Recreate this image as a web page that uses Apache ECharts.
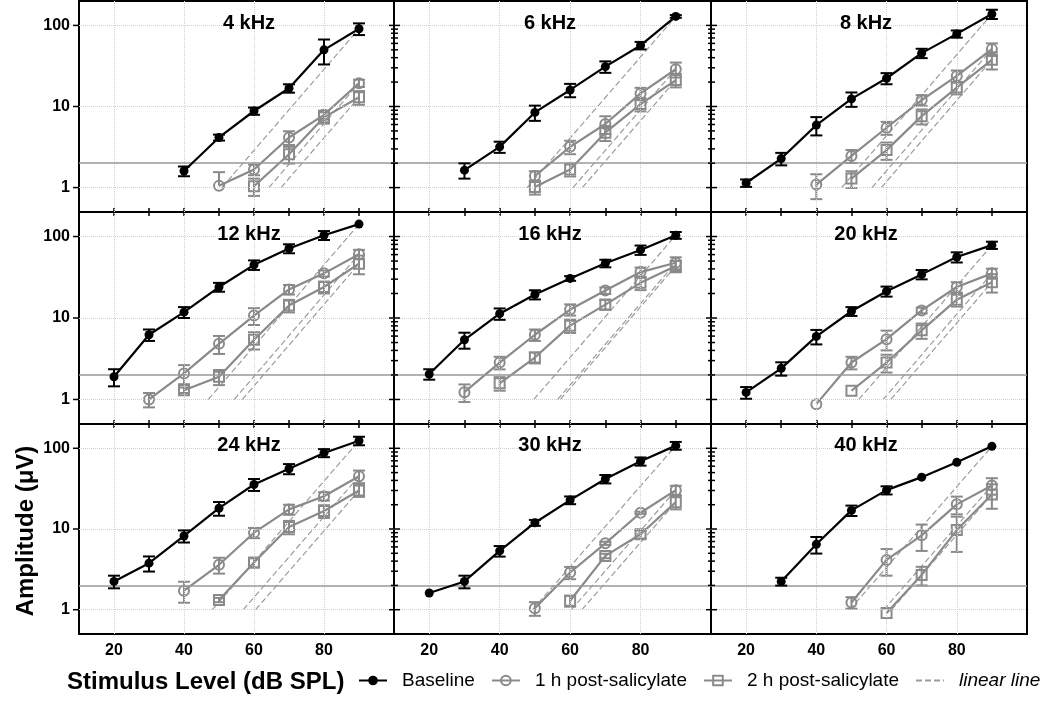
<!DOCTYPE html>
<html><head><meta charset="utf-8">
<script src="https://cdn.jsdelivr.net/npm/echarts@6/dist/echarts.min.js"></script>
<style>html,body{margin:0;padding:0;background:#fff}#c{width:1050px;height:705px}</style>
</head><body><div id="c"></div>
<script>
// ---------------- data ----------------
const levels = [20, 30, 40, 50, 60, 70, 80, 90];
const panelTitles = ['4 kHz', '6 kHz', '8 kHz', '12 kHz', '16 kHz', '20 kHz', '24 kHz', '30 kHz', '40 kHz'];
const yTickLabels = [1, 10, 100];
const xTickLabels = [20, 40, 60, 80];
const minorTickValues = [2, 3, 4, 5, 6, 7, 8, 9, 20, 30, 40, 50, 60, 70, 80, 90];
const thresholdUV = 2;
const N = null;

// Baseline mean amplitude (µV) per panel, at levels 20..90 dB SPL
const baselineMean = [
  [N, N, 1.6, 4.15, 8.8, 16.8, 50, 91],
  [N, 1.64, 3.18, 8.45, 16, 31, 56.6, 129],
  [1.14, 2.28, 5.9, 12.4, 22.3, 45.5, 78.6, 138],
  [1.9, 6.23, 11.8, 24, 44.9, 71.3, 103.7, 142],
  [2.05, 5.4, 11.3, 19.4, 30.6, 46.9, 68.5, 103.7],
  [1.22, 2.41, 5.94, 12.1, 21.3, 34.3, 56, 78.4],
  [2.24, 3.77, 8.2, 18.1, 35.6, 55.7, 87.6, 124],
  [1.61, 2.24, 5.35, 11.96, 22.8, 41.7, 69, 107.9],
  [N, 2.24, 6.46, 17, 30.3, 43.9, 67, 105.8]
];
const baselineSem = [
  [N, N, 0.22, 0.35, 0.9, 2, 17, 15],
  [N, 0.35, 0.5, 1.8, 3, 5, 6, 5],
  [0.12, 0.4, 1.5, 2.5, 3.5, 6, 8, 18],
  [0.45, 1, 1.8, 3, 6, 9, 13, 0],
  [0.3, 1.2, 1.8, 2.5, 2, 5, 9, 10],
  [0.2, 0.45, 1.2, 1.5, 3, 4.5, 8, 8],
  [0.4, 0.8, 1.4, 3.5, 6, 8, 10, 15],
  [0, 0.4, 0.8, 1, 2.5, 5, 8, 12],
  [N, 0.25, 1.5, 2.5, 3.5, 0, 0, 0]
];
const oneHourMean = [
  [N, N, N, 1.05, 1.67, 4.15, 7.9, 19.4],
  [N, N, N, 1.39, 3.18, 6.08, 14.5, 28.8],
  [N, N, 1.09, 2.46, 5.47, 12, 23.8, 51],
  [N, 1.0, 2.09, 4.82, 10.7, 22.4, 35.3, 60.6],
  [N, 1.23, 2.84, 6.23, 12.7, 21.7, 36.6, 47.6],
  [N, N, 0.876, 2.84, 5.5, 12.4, 24, 35.3],
  [N, N, 1.72, 3.6, 9.0, 17.5, 25.5, 45],
  [N, N, N, 1.04, 2.89, 6.65, 15.9, 30.3],
  [N, N, N, 1.23, 4.14, 8.35, 20.2, 34.6]
];
const oneHourSem = [
  [N, N, N, [0, 0.5], 0.25, 0.8, 1, 2],
  [N, N, N, 0.2, 0.6, 1.5, 2.5, 6],
  [N, N, 0.37, 0.45, 1, 1.8, 4, 9],
  [N, 0.2, 0.55, 1.2, 2.5, 3, 3, 8],
  [N, 0.3, 0.5, 1, 2, 2, 5, 8],
  [N, N, 0, 0.5, 1.5, 1, 3.5, 5],
  [N, N, 0.5, 0.8, 1.3, 2.5, 3, 8],
  [N, N, N, 0.2, 0.5, 0.3, 0.5, 4],
  [N, N, N, 0.2, 1.5, 3, 5, 8]
];
const twoHourMean = [
  [N, N, N, N, 1.04, 2.58, 7.35, 13.0],
  [N, N, N, 1.02, 1.67, 4.75, 10.7, 21.2],
  [N, N, N, 1.29, 2.9, 7.6, 17.1, 37.6],
  [N, N, 1.3, 1.9, 5.4, 14.2, 24, 46.4],
  [N, N, 1.58, 3.27, 8.05, 14.6, 27, 43.4],
  [N, N, N, 1.28, 2.84, 7.05, 16.8, 27.5],
  [N, N, N, 1.32, 3.84, 10.6, 16.7, 30],
  [N, N, N, N, 1.29, 4.64, 8.6, 21.5],
  [N, N, N, N, 0.91, 2.7, 9.7, 26.8]
];
const twoHourSem = [
  [N, N, N, N, 0.25, 0.6, 1.2, 2.5],
  [N, N, N, 0.2, 0.3, 1, 2, 4],
  [N, N, N, 0.3, 0.7, 1.6, 3, 9],
  [N, N, 0.1, 0.4, 1.3, 2.5, 4, 12],
  [N, N, 0.3, 0.5, 1.5, 2, 5, 7],
  [N, N, N, 0, 0.7, 1.5, 3, 7],
  [N, N, N, 0.08, 0.5, 2, 3, 5],
  [N, N, N, N, 0.2, 0.3, 1, 4],
  [N, N, N, N, 0, 0.7, 4.5, 9]
];

// ---------------- layout & style ----------------
const FONT = '"Liberation Sans", Arial, sans-serif';
const colLeft = [79, 394, 711], colWidth = [315, 317, 316];
const rowTop = [1, 212, 424], rowHeight = [211, 212, 210];
const titleX = [249, 550, 866], titleY = [23, 234, 445];
const X_MIN = 10, X_MAX = 100, Y_MIN = 0.5, Y_MAX = 200;
const BLACK = '#000000', GRAY = '#8a8a8a', LINEAR_GRAY = '#9c9c9c';

const groups = [
  { name: 'Baseline', mean: baselineMean, sem: baselineSem, color: BLACK, symbol: 'circle', size: 9, fill: BLACK, z: 5 },
  { name: '1 h post-salicylate', mean: oneHourMean, sem: oneHourSem, color: GRAY, symbol: 'circle', size: 10, fill: 'rgba(255,255,255,0)', z: 4 },
  { name: '2 h post-salicylate', mean: twoHourMean, sem: twoHourSem, color: GRAY, symbol: 'rect', size: 10, fill: 'rgba(255,255,255,0)', z: 4 }
];

const grid = [], xAxis = [], yAxis = [], series = [], title = [];

function isTick(v, list) { return list.some(t => Math.abs(t - v) < 1e-6 * t); }

function makeErrRender(color) {
  return function (params, api) {
    const x = api.value(0), lo = api.value(1), hi = api.value(2);
    const hasLo = api.value(3), hasHi = api.value(4);
    const pHi = api.coord([x, hi]), pLo = api.coord([x, lo]);
    const cap = 6, st = { stroke: color, lineWidth: 2 };
    const ch = [{ type: 'line', shape: { x1: pHi[0], y1: pHi[1], x2: pLo[0], y2: pLo[1] }, style: st }];
    if (hasHi) ch.push({ type: 'line', shape: { x1: pHi[0] - cap, y1: pHi[1], x2: pHi[0] + cap, y2: pHi[1] }, style: st });
    if (hasLo) ch.push({ type: 'line', shape: { x1: pLo[0] - cap, y1: pLo[1], x2: pLo[0] + cap, y2: pLo[1] }, style: st });
    return { type: 'group', children: ch };
  };
}

function tickRender(params, api) {
  const kind = api.value(2);
  const p = api.coord([api.value(0), api.value(1)]);
  let a = -6, b = 0;
  if (kind === 2) { a = -5; b = 6; }
  if (kind === 3) { a = -3; b = 4; }
  return { type: 'line', shape: { x1: p[0] + a, y1: p[1], x2: p[0] + b, y2: p[1] }, style: { stroke: BLACK, lineWidth: 1.5 } };
}

for (let i = 0; i < 9; i++) {
  const col = i % 3, row = Math.floor(i / 3);
  grid.push({ left: colLeft[col], top: rowTop[row], width: colWidth[col], height: rowHeight[row],
    show: true, borderColor: BLACK, borderWidth: 2, backgroundColor: 'rgba(0,0,0,0)' });

  // bottom x axis
  xAxis.push({ type: 'value', gridIndex: i, min: X_MIN, max: X_MAX, interval: 10, position: 'bottom',
    axisLine: { show: false },
    axisTick: { show: row < 2, length: 4, lineStyle: { color: BLACK, width: 1.5 } },
    axisLabel: { show: row === 2, margin: 9, fontSize: 16, fontWeight: 'bold', color: BLACK, fontFamily: FONT,
      formatter: v => (isTick(v, xTickLabels) ? String(v) : '') },
    splitLine: { show: false } });
  const xBottom = xAxis.length - 1;
  // top x axis (ticks only) for lower rows
  xAxis.push({ type: 'value', gridIndex: i, min: X_MIN, max: X_MAX, interval: 10, position: 'top',
    axisLine: { show: false },
    axisTick: { show: row > 0, length: 4, lineStyle: { color: BLACK, width: 1.5 } },
    axisLabel: { show: false }, splitLine: { show: false } });

  yAxis.push({ type: 'log', logBase: 10, gridIndex: i, min: Y_MIN, max: Y_MAX,
    axisLine: { show: false }, axisTick: { show: false },
    axisLabel: { show: col === 0, margin: 9, fontSize: 16, fontWeight: 'bold', color: BLACK, fontFamily: FONT,
      formatter: v => { const t = yTickLabels.find(t => Math.abs(t - v) < 1e-6 * t); return t ? String(t) : ''; } },
    splitLine: { show: false } });
  const yIdx = yAxis.length - 1;

  title.push({ text: panelTitles[i], left: titleX[col], top: titleY[row], textAlign: 'center', textVerticalAlign: 'middle',
    padding: 0, textStyle: { fontSize: 20, fontWeight: 'bold', color: BLACK, fontFamily: FONT } });

  // reference grid lines + threshold line
  const dotted = { color: '#cfcfcf', width: 1, type: 'dotted' };
  const mlData = xTickLabels.map(v => ({ xAxis: v, lineStyle: dotted }))
    .concat(yTickLabels.map(v => ({ yAxis: v, lineStyle: dotted })))
    .concat([{ yAxis: thresholdUV, lineStyle: { color: '#999999', width: 1.5, type: 'solid' } }]);

  // linear lines (slope: 20 dB per decade through the 90 dB point)
  groups.forEach((g, gi) => {
    const a90 = g.mean[i][levels.length - 1];
    const x0 = 90 - 20 * Math.log10(a90);
    const s = { name: 'linear line', type: 'line', xAxisIndex: xBottom, yAxisIndex: yIdx, z: 2,
      data: [[x0, 1], [90, a90]], symbol: 'none', silent: true, animation: false,
      lineStyle: { color: LINEAR_GRAY, width: 1.2, type: [6, 3] }, itemStyle: { color: LINEAR_GRAY } };
    if (gi === 0) s.markLine = { silent: true, symbol: 'none', label: { show: false }, animation: false, data: mlData };
    series.push(s);
  });

  // data series + error bars
  groups.forEach(g => {
    const pts = [], errs = [];
    levels.forEach((lv, k) => {
      const m = g.mean[i][k];
      if (m === null) return;
      pts.push([lv, m]);
      const e = g.sem[i][k];
      if (e === null) return;
      const down = Array.isArray(e) ? e[0] : e, up = Array.isArray(e) ? e[1] : e;
      if (down === 0 && up === 0) return;
      let lo = m - down; let hasLo = down > 0 ? 1 : 0;
      if (lo < Y_MIN) { lo = Y_MIN; hasLo = 0; }
      errs.push([lv, lo, m + up, hasLo, up > 0 ? 1 : 0]);
    });
    series.push({ name: g.name, type: 'line', xAxisIndex: xBottom, yAxisIndex: yIdx, z: g.z, data: pts,
      symbol: g.symbol, symbolSize: g.size, showAllSymbol: true, animation: false,
      lineStyle: { color: g.color, width: 2.2 },
      itemStyle: { color: g.fill, borderColor: g.color, borderWidth: g.fill === BLACK ? 0 : 2 } });
    series.push({ name: g.name + ' SEM', type: 'custom', xAxisIndex: xBottom, yAxisIndex: yIdx, z: g.z,
      data: errs, renderItem: makeErrRender(g.color), silent: true, animation: false,
      encode: { x: 0, y: 1 } });
  });

  // y axis ticks (major on left column; major + minor on shared borders)
  const tdata = col === 0 ? yTickLabels.map(v => [X_MIN, v, 1])
    : yTickLabels.map(v => [X_MIN, v, 2]).concat(minorTickValues.map(v => [X_MIN, v, 3]));
  series.push({ name: 'ticks', type: 'custom', xAxisIndex: xBottom, yAxisIndex: yIdx, z: 6, data: tdata,
    renderItem: tickRender, silent: true, animation: false, clip: false, encode: { x: 0, y: 1 } });
}

const option = {
  animation: false,
  backgroundColor: '#ffffff',
  textStyle: { fontFamily: FONT },
  title: title,
  grid: grid, xAxis: xAxis, yAxis: yAxis, series: series,
  legend: {
    left: 358, top: 671, padding: 0, itemWidth: 28, itemHeight: 12, itemGap: 16,
    textStyle: { fontSize: 19, color: BLACK, fontFamily: FONT, padding: [0, 0, 0, 10] },
    data: [
      { name: 'Baseline' },
      { name: '1 h post-salicylate' },
      { name: '2 h post-salicylate' },
      { name: 'linear line', textStyle: { fontStyle: 'italic' }, itemStyle: { opacity: 0 } }
    ],
    selectedMode: false
  },
  graphic: [
    { type: 'text', x: 26, y: 531, rotation: Math.PI / 2,
      style: { text: 'Amplitude (μV)', font: 'bold 24px ' + FONT, fill: BLACK, align: 'center', verticalAlign: 'middle' } },
    { type: 'text', x: 67, y: 682,
      style: { text: 'Stimulus Level (dB SPL)', font: 'bold 24px ' + FONT, fill: BLACK, align: 'left', verticalAlign: 'middle' } }
  ]
};

const chart = echarts.init(document.getElementById('c'), null, { renderer: 'canvas' });
chart.setOption(option);
</script>
</body></html>
